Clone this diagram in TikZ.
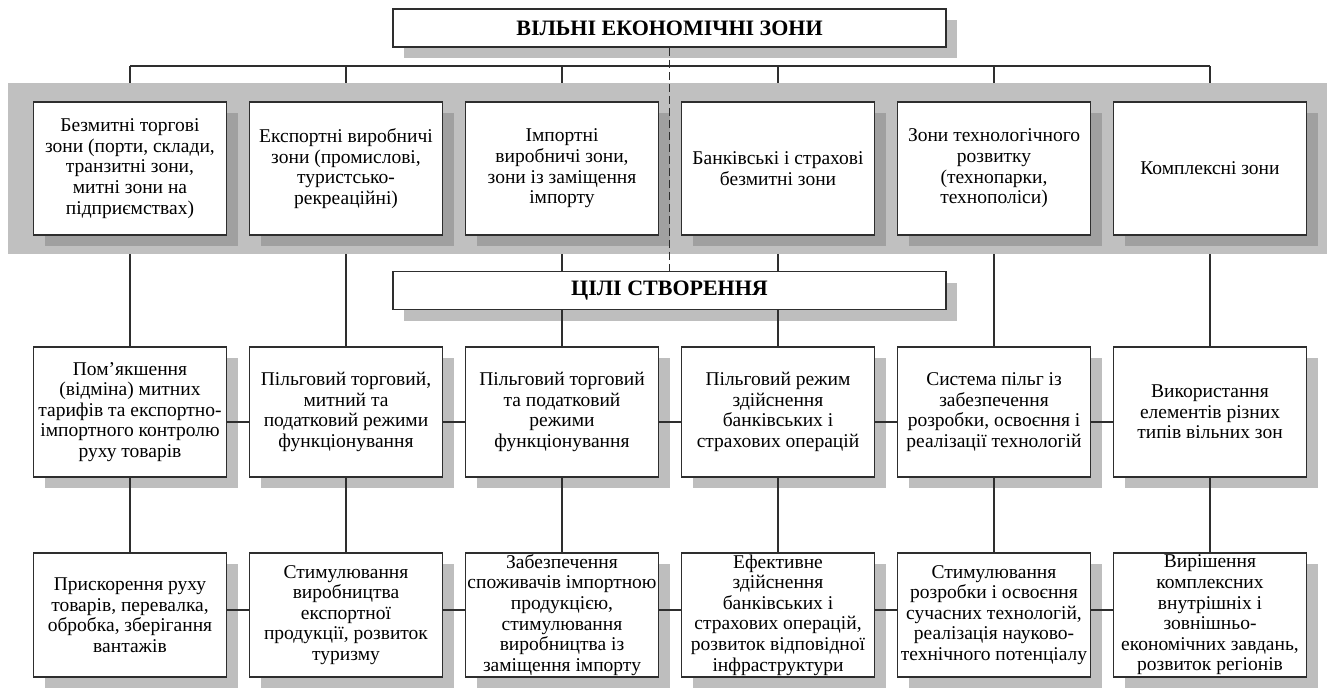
\documentclass[tikz,border=0pt]{standalone}
\usepackage{fontspec}
\setmainfont{Liberation Serif}
\usetikzlibrary{shadows}
\pgfdeclarelayer{bg}
\pgfdeclarelayer{bandl}
\pgfsetlayers{bg,bandl,main}
\definecolor{bandcol}{HTML}{C0C0C0}
\definecolor{shdA}{HTML}{A0A0A0}
\definecolor{shdB}{HTML}{BEBEBE}
\definecolor{ln}{HTML}{2E2E2E}
\tikzset{
  basebox/.style={draw=ln, line width=1.6pt, fill=white, align=center, inner sep=1pt,
    font=\fontsize{19.5}{20.6}\selectfont},
  topbox/.style={basebox, minimum width=193pt, minimum height=133pt,
    general shadow={fill=shdA, shadow xshift=11pt, shadow yshift=-11pt}},
  midbox/.style={basebox, minimum width=193pt, minimum height=130pt,
    general shadow={fill=shdB, shadow xshift=11pt, shadow yshift=-11pt}},
  botbox/.style={basebox, minimum width=193pt, minimum height=124pt,
    general shadow={fill=shdB, shadow xshift=11pt, shadow yshift=-11pt}},
  headbox/.style={basebox, minimum width=553pt, minimum height=38pt,
    font=\fontsize{22}{24}\selectfont\bfseries,
    general shadow={fill=shdB, shadow xshift=11pt, shadow yshift=-11pt}},
  conn/.style={draw=ln, line width=1.4pt},
  dconn/.style={draw=ln, line width=1.4pt, dash pattern=on 8pt off 4pt}
}
\begin{document}
\begin{tikzpicture}[x=1pt,y=-1pt]
\useasboundingbox (0,0) rectangle (1327,691);
\begin{pgfonlayer}{bandl}
\fill[bandcol] (8,83) rectangle (1327,254);
\end{pgfonlayer}
% header nodes
\node[headbox] (vez) at (669.5,28) {ВІЛЬНІ ЕКОНОМІЧНІ ЗОНИ};
\node[headbox] (cili) at (669.5,290.5) {ЦІЛІ СТВОРЕННЯ};
% top row
\node[topbox] (t1) at (130,168.5) {Безмитні торгові\\зони (порти, склади,\\транзитні зони,\\митні зони на\\підприємствах)};
\node[topbox] (t2) at (346,168.5) {Експортні виробничі\\зони (промислові,\\туристсько-\\рекреаційні)};
\node[topbox] (t3) at (562,168.5) {Імпортні\\виробничі зони,\\зони із заміщення\\імпорту};
\node[topbox] (t4) at (778,168.5) {Банківські і страхові\\безмитні зони};
\node[topbox] (t5) at (994,168.5) {Зони технологічного\\розвитку\\(технопарки,\\технополіси)};
\node[topbox] (t6) at (1210,168.5) {Комплексні зони};
% middle row
\node[midbox] (m1) at (130,412) {Пом’якшення\\(відміна) митних\\тарифів та експортно-\\імпортного контролю\\руху товарів};
\node[midbox] (m2) at (346,412) {Пільговий торговий,\\митний та\\податковий режими\\функціонування};
\node[midbox] (m3) at (562,412) {Пільговий торговий\\та податковий\\режими\\функціонування};
\node[midbox] (m4) at (778,412) {Пільговий режим\\здійснення\\банківських і\\страхових операцій};
\node[midbox] (m5) at (994,412) {Система пільг із\\забезпечення\\розробки, освоєння і\\реалізації технологій};
\node[midbox] (m6) at (1210,412) {Використання\\елементів різних\\типів вільних зон};
% bottom row
\node[botbox] (b1) at (130,615) {Прискорення руху\\товарів, перевалка,\\обробка, зберігання\\вантажів};
\node[botbox] (b2) at (346,615) {Стимулювання\\виробництва\\експортної\\продукції, розвиток\\туризму};
\node[botbox] (b3) at (562,615) {Забезпечення\\споживачів імпортною\\продукцією,\\стимулювання\\виробництва із\\заміщення імпорту};
\node[botbox] (b4) at (778,615) {Ефективне\\здійснення\\банківських і\\страхових операцій,\\розвиток відповідної\\інфраструктури};
\node[botbox] (b5) at (994,615) {Стимулювання\\розробки і освоєння\\сучасних технологій,\\реалізація науково-\\технічного потенціалу};
\node[botbox] (b6) at (1210,615) {Вирішення\\комплексних\\внутрішніх і\\зовнішньо-\\економічних завдань,\\розвиток регіонів};
% bus
\coordinate (busL) at (130,66);
\coordinate (busR) at (1210,66);
\begin{pgfonlayer}{bg}
\draw[conn] (busL) -- (busR);
\foreach \i in {1,...,6} {\draw[conn] (t\i.north |- busL) -- (t\i.north);}
\draw[conn] (t1) -- (m1);
\draw[conn] (t2) -- (m2);
\draw[conn] (t5) -- (m5);
\draw[conn] (t6) -- (m6);
\draw[conn] (t3.south) -- (t3.south |- cili.north);
\draw[conn] (t4.south) -- (t4.south |- cili.north);
\end{pgfonlayer}
\draw[conn] (cili.south -| m3.north) -- (m3.north);
\draw[conn] (cili.south -| m4.north) -- (m4.north);
\foreach \i/\j in {1/2,2/3,3/4,4/5,5/6} {
  \draw[conn] ([yshift=-10pt]m\i.east) -- ([yshift=-10pt]m\j.west);
  \draw[conn] ([yshift=5pt]b\i.east) -- ([yshift=5pt]b\j.west);
}
\foreach \i in {1,...,6} {\draw[conn] (m\i.south) -- (b\i.north);}
\draw[dconn] (vez.south) -- (cili.north);
\end{tikzpicture}
\end{document}
